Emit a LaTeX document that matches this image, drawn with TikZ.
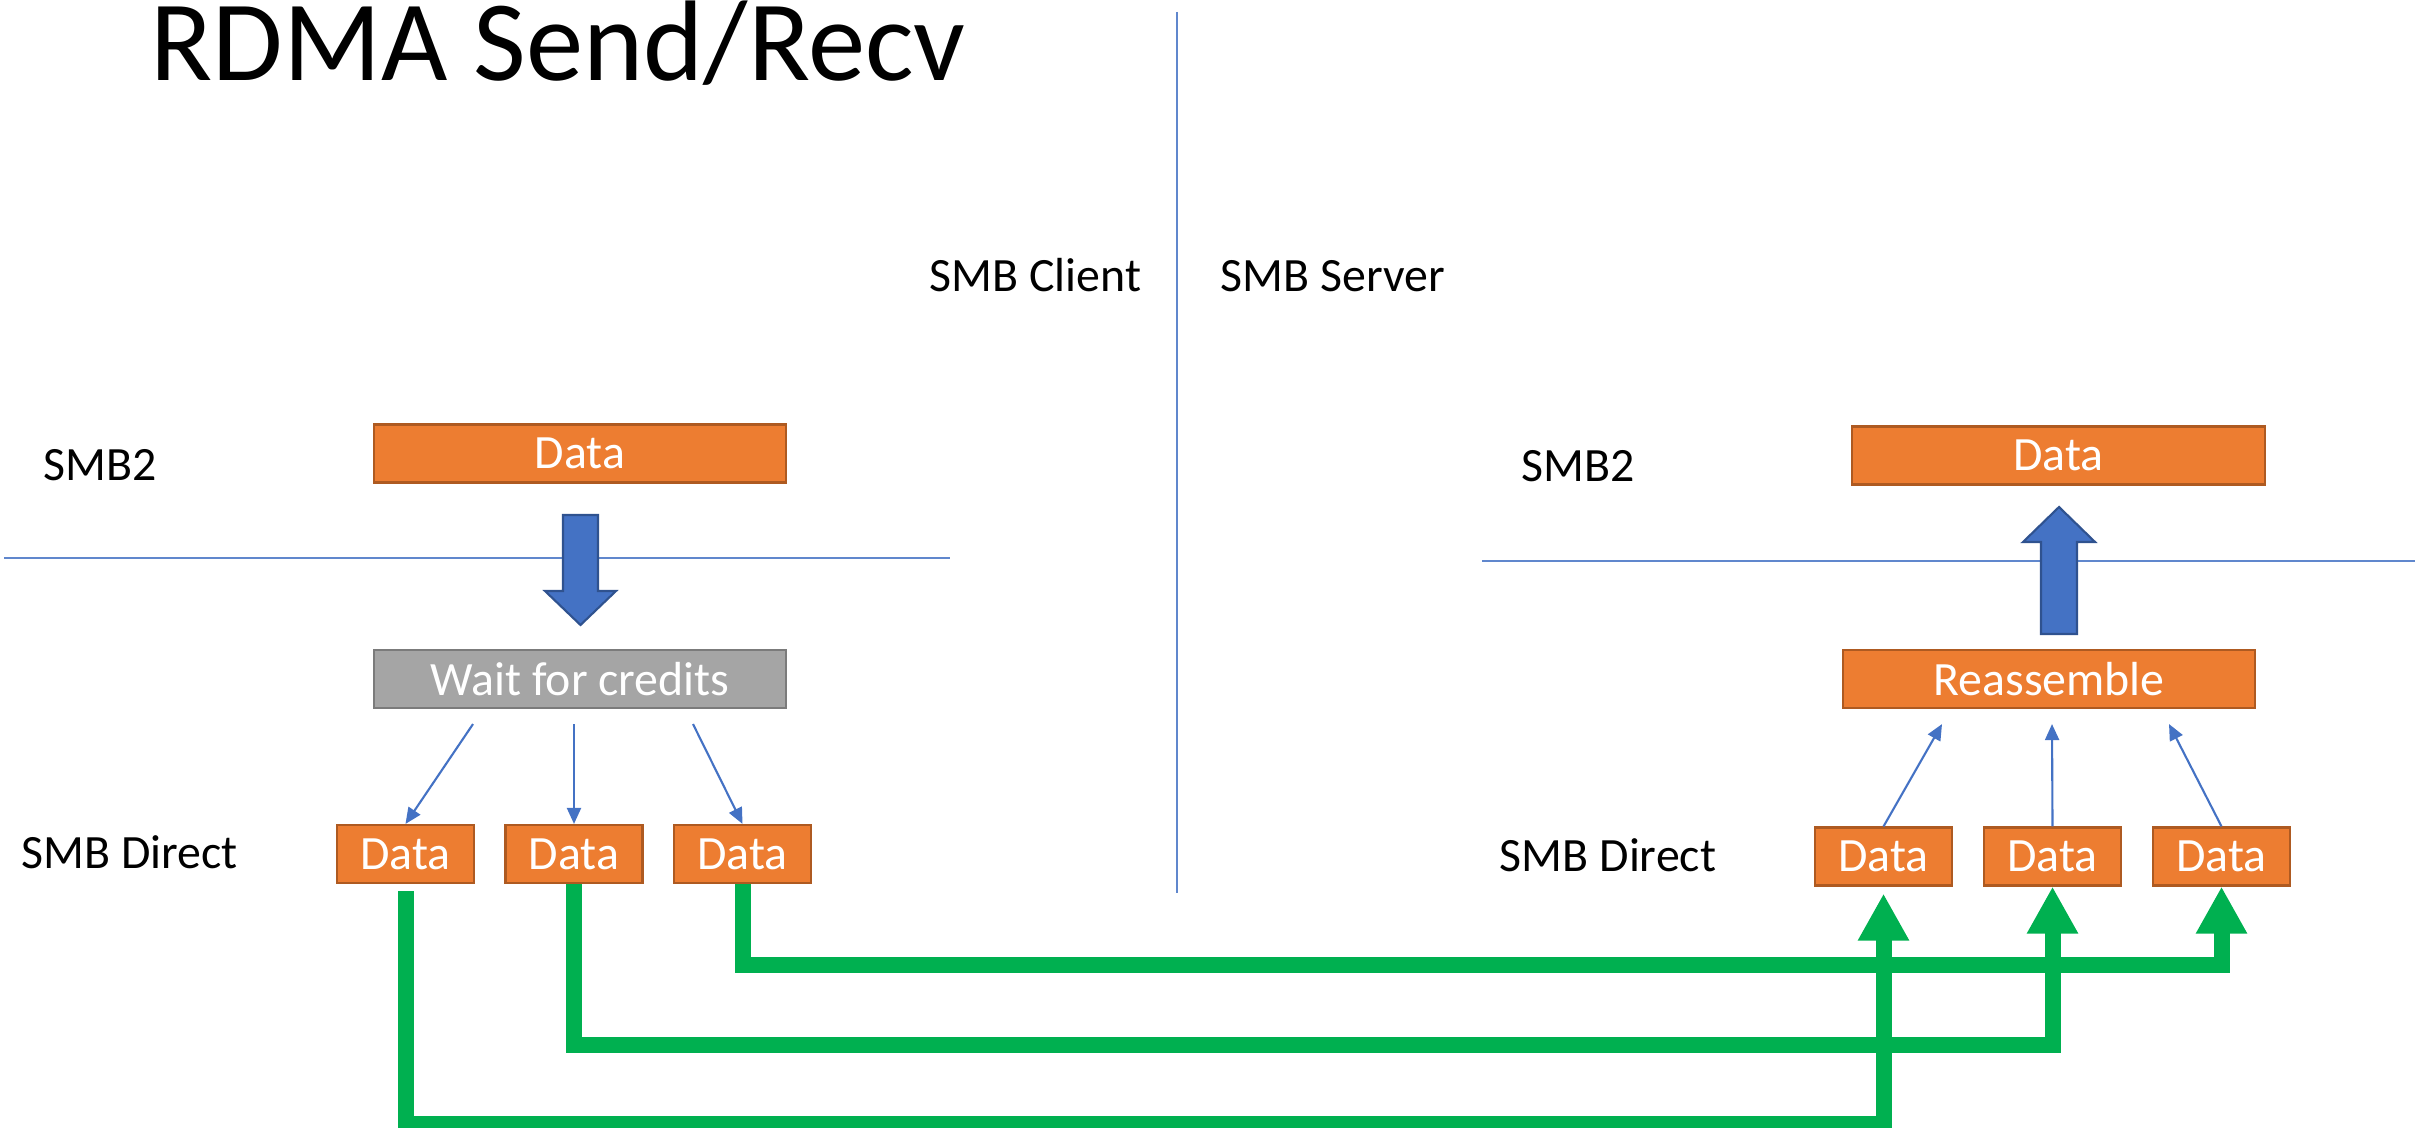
\documentclass[tikz,border=0pt]{standalone}
\usepackage{fontspec}
\setmainfont{Carlito}
\usetikzlibrary{arrows.meta,calc}
\definecolor{boxorange}{HTML}{ED7D31}
\definecolor{boxorangeedge}{HTML}{AE5A21}
\definecolor{boxgray}{HTML}{A5A5A5}
\definecolor{boxgrayedge}{HTML}{7B7B7B}
\definecolor{flowblue}{HTML}{4472C4}
\definecolor{flowblueedge}{HTML}{2F528F}
\definecolor{linkgreen}{HTML}{00B050}

\begin{document}
\begin{tikzpicture}[x=0.01cm,y=-0.01cm,
  orangebox/.style={draw=boxorangeedge, fill=boxorange, line width=0.6pt,
    text=white, font=\fontsize{13.6}{16}\selectfont, inner sep=0pt,
    minimum height=0.58cm},
  widebox/.style={orangebox, minimum width=4.12cm},
  smallbox/.style={orangebox, minimum width=1.37cm},
  waitbox/.style={widebox, draw=boxgrayedge, fill=boxgray},
  tag/.style={font=\fontsize{13.6}{16}\selectfont, anchor=base, inner sep=0pt},
  divider/.style={draw=flowblue!85, line width=0.6pt},
  fanout/.style={draw=flowblue, line width=0.6pt,
    -{Triangle[width=0.14cm,length=0.16cm]}},
  blockarrow/.style={fill=flowblue, draw=flowblueedge, line width=0.6pt},
  greenlink/.style={draw=linkgreen, line width=0.16cm,
    -{Triangle[width=0.48cm,length=0.47cm]}}
]
\useasboundingbox (0,0) rectangle (2415,1128);

% title
\node[anchor=base west, inner sep=0pt, font=\fontsize{32.6}{38}\selectfont]
  (title) at (150,81) {RDMA Send/Recv};

% layer and side separators
\draw[divider] (4,558) -- (950,558);
\draw[divider] (1482,561) -- (2415,561);
\draw[divider] (1177,12) -- (1177,893);

% side and layer labels
\node[tag] (lclient) at (1035.5,292) {SMB Client};
\node[tag] (lserver) at (1333,292) {SMB Server};
\node[tag] (lsmbl) at (100,481) {SMB2};
\node[tag] (lsmbr) at (1578,482) {SMB2};
\node[tag] (ldirl) at (129.5,868) {SMB Direct};
\node[tag] (ldirr) at (1608,871) {SMB Direct};

% client side
\node[widebox] (ctop) at (580,453.5) {Data};
\node[waitbox] (cwait) at (580,679) {Wait for credits};
\node[smallbox] (c1) at (405.5,854) {Data};
\node[smallbox] (c2) at (574,854) {Data};
\node[smallbox] (c3) at (742.5,854) {Data};

% server side
\node[widebox] (stop) at (2058.5,455.5) {Data};
\node[widebox] (sre) at (2049,679) {Reassemble};
\node[smallbox] (s1) at (1883.5,856.5) {Data};
\node[smallbox] (s2) at (2052.5,856.5) {Data};
\node[smallbox] (s3) at (2221.5,856.5) {Data};

% block arrows between the layers
\draw[blockarrow] (563,515) -- (598,515) -- (598,591) -- (616,591)
  -- (580.5,625) -- (545,591) -- (563,591) -- cycle;
\draw[blockarrow] (2041,634) -- (2077,634) -- (2077,542) -- (2095,542)
  -- (2059,507) -- (2023,542) -- (2041,542) -- cycle;

% fragmenting and reassembling
\draw[fanout] ($(cwait.south)+(-107,15)$) -- (c1.north);
\draw[fanout] ($(cwait.south)+(-6,15)$) -- (c2.north);
\draw[fanout] ($(cwait.south)+(113,15)$) -- (c3.north);
\draw[fanout] (s1.north) -- ($(sre.south)+(-107,15)$);
\draw[fanout] (s2.north) -- ($(sre.south)+(3,15)$);
\draw[fanout] (s3.north) -- ($(sre.south)+(120,15)$);

% RDMA send/receive transfers
\draw[greenlink] (c3.south) -- ++(0,81) -| (s3.south);
\draw[greenlink] (c2.south) -- ++(0,161) -| (s2.south);
\draw[greenlink] ([yshift=-0.07cm]c1.south) -- ++(0,233) -| ([yshift=-0.07cm]s1.south);
\end{tikzpicture}
\end{document}
